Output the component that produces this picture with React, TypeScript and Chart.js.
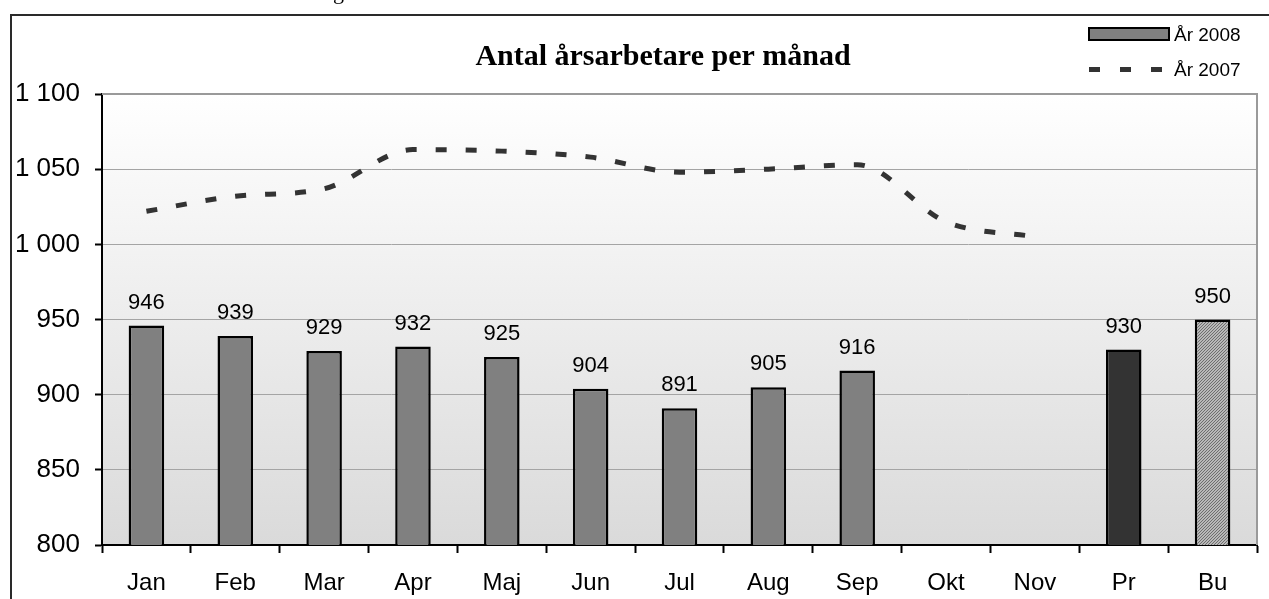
import React, { useEffect, useRef } from 'react';
import { Chart, registerables } from 'chart.js';

Chart.register(...registerables);

const categories = ['Jan', 'Feb', 'Mar', 'Apr', 'Maj', 'Jun', 'Jul', 'Aug', 'Sep', 'Okt', 'Nov', 'Pr', 'Bu'];
const values2008: (number | null)[] = [946, 939, 929, 932, 925, 904, 891, 905, 916, null, null, 930, 950];
const values2007: (number | null)[] = [1022, 1032, 1037, 1063, 1062, 1058, 1048, 1050, 1053, 1015, 1005, null, null];
const yTicks = [800, 850, 900, 950, 1000, 1050, 1100];
const titleText = 'Antal årsarbetare per månad';
const legendLabels = ['År 2008', 'År 2007'];
const barKinds = ['m', 'm', 'm', 'm', 'm', 'm', 'm', 'm', 'm', 'm', 'm', 'pr', 'bu'];

const SANS = '"Liberation Sans", Arial, sans-serif';
const SERIF = '"Liberation Serif", "Times New Roman", serif';

function fmt(v: number): string {
  if (v >= 1000) {
    const th = Math.floor(v / 1000);
    const rest = String(v % 1000).padStart(3, '0');
    return `${th} ${rest}`;
  }
  return String(v);
}

function makePattern(): CanvasPattern | string {
  const c = document.createElement('canvas');
  c.width = 3;
  c.height = 3;
  const g = c.getContext('2d');
  if (!g) return '#a0a0a0';
  g.fillStyle = '#b8b8b8';
  g.fillRect(0, 0, 3, 3);
  g.fillStyle = '#6e6e6e';
  for (let x = 0; x < 3; x++) {
    for (let y = 0; y < 3; y++) {
      if ((x + y) % 3 === 0) g.fillRect(x, y, 1, 1);
    }
  }
  const p = g.createPattern(c, 'repeat');
  return p || '#a0a0a0';
}

export default function App() {
  const ref = useRef<HTMLCanvasElement | null>(null);

  useEffect(() => {
    const canvas = ref.current;
    if (!canvas) return;
    const pattern = makePattern();
    const barColors = barKinds.map((k) => (k === 'pr' ? '#333333' : k === 'bu' ? pattern : '#808080'));

    const bgPlugin = {
      id: 'bgPlugin',
      beforeDraw(chart: any) {
        const { ctx, chartArea } = chart;
        ctx.save();
        ctx.fillStyle = '#ffffff';
        ctx.fillRect(0, 0, chart.width, chart.height);
        const gr = ctx.createLinearGradient(0, chartArea.top, 0, chartArea.bottom);
        gr.addColorStop(0, '#ffffff');
        gr.addColorStop(1, '#dadada');
        ctx.fillStyle = gr;
        ctx.fillRect(chartArea.left, chartArea.top, chartArea.right - chartArea.left, chartArea.bottom - chartArea.top);
        ctx.restore();
      },
      beforeDatasetsDraw(chart: any) {
        const { ctx, chartArea } = chart;
        ctx.save();
        ctx.strokeStyle = '#9a9a9a';
        ctx.lineWidth = 2;
        ctx.beginPath();
        ctx.moveTo(chartArea.left, chartArea.top);
        ctx.lineTo(chartArea.right, chartArea.top);
        ctx.lineTo(chartArea.right, chartArea.bottom);
        ctx.stroke();
        ctx.restore();
      },
    };

    const labelsPlugin = {
      id: 'labelsPlugin',
      afterDatasetsDraw(chart: any) {
        const { ctx } = chart;
        const meta = chart.getDatasetMeta(0);
        ctx.save();
        ctx.fillStyle = '#000';
        ctx.font = `22px ${SANS}`;
        ctx.textAlign = 'center';
        ctx.textBaseline = 'alphabetic';
        meta.data.forEach((el: any, i: number) => {
          const v = values2008[i];
          if (v == null) return;
          ctx.fillText(String(v), el.x, el.y - 17);
        });
        ctx.restore();
      },
      afterDraw(chart: any) {
        const { ctx } = chart;
        ctx.save();
        // outer frame
        ctx.strokeStyle = '#2a2a2a';
        ctx.lineWidth = 2;
        ctx.beginPath();
        ctx.moveTo(11, chart.height + 5);
        ctx.lineTo(11, 15);
        ctx.lineTo(chart.width + 5, 15);
        ctx.stroke();
        // fragment of text above the frame
        ctx.fillStyle = '#000';
        ctx.font = `22px ${SERIF}`;
        ctx.textAlign = 'left';
        ctx.textBaseline = 'alphabetic';
        ctx.fillText('g', 333, -1);
        // title
        ctx.font = `bold 30px ${SERIF}`;
        ctx.textAlign = 'center';
        ctx.fillText(titleText, 663, 65);
        // legend
        ctx.fillStyle = '#808080';
        ctx.fillRect(1089, 28, 80, 12);
        ctx.strokeStyle = '#000';
        ctx.lineWidth = 2;
        ctx.strokeRect(1089, 28, 80, 12);
        ctx.fillStyle = '#000';
        ctx.font = `19px ${SANS}`;
        ctx.textAlign = 'left';
        ctx.fillText(legendLabels[0], 1174, 41);
        ctx.strokeStyle = '#333333';
        ctx.lineWidth = 5;
        ctx.setLineDash([11, 20]);
        ctx.beginPath();
        ctx.moveTo(1089, 69.5);
        ctx.lineTo(1163, 69.5);
        ctx.stroke();
        ctx.setLineDash([]);
        ctx.fillText(legendLabels[1], 1174, 76);
        ctx.restore();
      },
    };

    const chart = new Chart(canvas, {
      type: 'bar',
      data: {
        labels: categories,
        datasets: [
          {
            type: 'bar',
            label: legendLabels[0],
            data: values2008,
            backgroundColor: barColors as any,
            borderColor: '#000',
            borderWidth: 2.5,
            borderSkipped: false,
            barPercentage: 0.4,
            categoryPercentage: 1,
            order: 2,
          } as any,
          {
            type: 'line',
            label: legendLabels[1],
            data: values2007,
            borderColor: '#333333',
            borderWidth: 5,
            borderDash: [11, 19],
            borderCapStyle: 'butt',
            pointRadius: 0,
            cubicInterpolationMode: 'monotone',
            fill: false,
            spanGaps: false,
            order: 1,
          } as any,
        ],
      },
      options: {
        responsive: false,
        animation: false,
        devicePixelRatio: 1,
        layout: { padding: { left: 0, top: 94, right: 12, bottom: 0 } },
        plugins: {
          legend: { display: false },
          title: { display: false },
          tooltip: { enabled: false },
        },
        scales: {
          x: {
            offset: true,
            grid: {
              offset: true,
              drawOnChartArea: false,
              drawTicks: true,
              tickLength: 8,
              tickColor: '#000',
              tickWidth: 2,
            },
            border: { display: true, color: '#000', width: 2 },
            ticks: {
              color: '#000',
              font: { family: SANS, size: 24 },
              padding: 16,
              maxRotation: 0,
              autoSkip: false,
            },
            afterFit: (s: any) => {
              s.height = 54;
            },
          },
          y: {
            min: 800,
            max: 1100,
            afterBuildTicks: (s: any) => {
              s.ticks = yTicks.map((v) => ({ value: v }));
            },
            ticks: {
              color: '#000',
              font: { family: SANS, size: 26 },
              padding: 15,
              callback: (v: any) => fmt(Number(v)),
            },
            grid: {
              color: '#a4a4a4',
              lineWidth: 1,
              drawTicks: true,
              tickLength: 7,
              tickColor: '#000',
              tickWidth: 2,
            },
            border: { display: true, color: '#000', width: 2 },
            afterFit: (s: any) => {
              s.width = 102;
            },
          },
        },
      } as any,
      plugins: [bgPlugin, labelsPlugin],
    });

    return () => {
      chart.destroy();
    };
  }, []);

  return (
    <div style={{ position: 'absolute', left: 0, top: 0, width: 1269, height: 599, overflow: 'hidden', background: '#fff' }}>
      <canvas ref={ref} width={1269} height={599} style={{ display: 'block', width: 1269, height: 599 }} />
    </div>
  );
}
